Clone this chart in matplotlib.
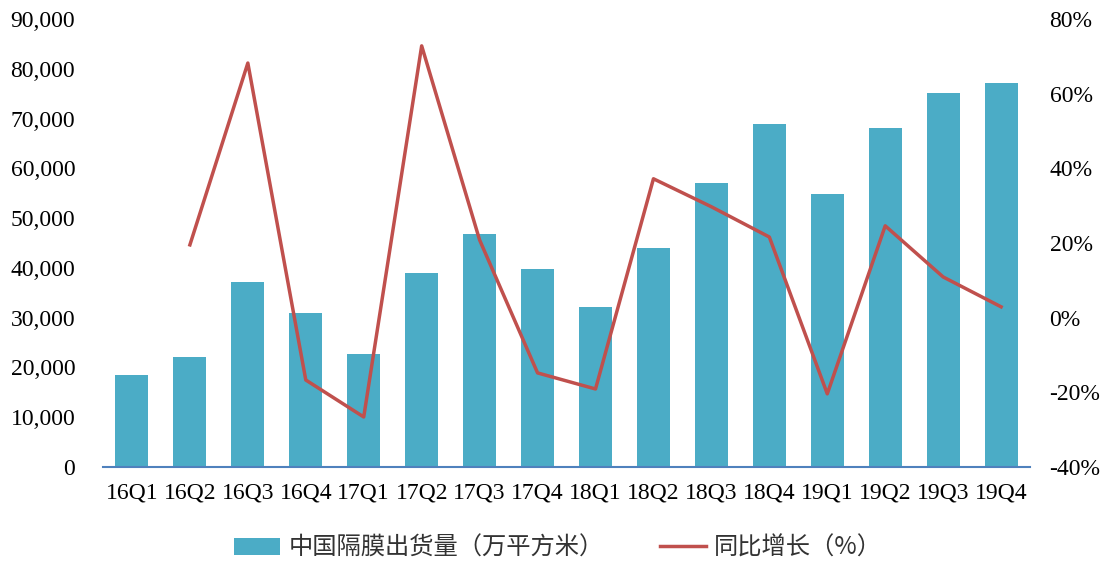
import matplotlib
matplotlib.use("Agg")
import matplotlib.pyplot as plt
from matplotlib.ticker import FuncFormatter, MultipleLocator
from matplotlib.patches import Patch
from matplotlib.lines import Line2D

categories = ["16Q1", "16Q2", "16Q3", "16Q4", "17Q1", "17Q2", "17Q3", "17Q4",
              "18Q1", "18Q2", "18Q3", "18Q4", "19Q1", "19Q2", "19Q3", "19Q4"]
shipments = [18500, 22100, 37100, 30900, 22700, 39000, 46800, 39800,
             32100, 44000, 57000, 68900, 54800, 68100, 75100, 77100]
growth = [None, 19.5, 68.2, -16.7, -26.6, 72.8, 20.8, -14.8,
          -19.1, 37.2, 29.7, 21.6, -20.4, 24.6, 10.9, 2.9]

bar_label = "中国隔膜出货量（万平方米）"
line_label = "同比增长（%）"

serif = ["Liberation Serif", "DejaVu Serif"]
cjk = ["Noto Sans CJK SC", "DejaVu Sans"]

fig = plt.figure(figsize=(11.05, 5.63), dpi=100)
ax = fig.add_axes([0.0932, 0.1705, 0.839, 0.7958])
ax2 = ax.twinx()

x = list(range(len(categories)))
bar_color = "#4BACC6"
line_color = "#C0504D"

ax.bar(x, shipments, width=0.57, color=bar_color, zorder=2)
gx = [i for i, g in zip(x, growth) if g is not None]
gy = [g for g in growth if g is not None]
ax2.plot(gx, gy, color=line_color, linewidth=2.5, zorder=3)

ax.set_xlim(-0.5, len(categories) - 0.5)
ax.set_ylim(0, 90000)
ax2.set_ylim(-40, 80)
ax.yaxis.set_major_locator(MultipleLocator(10000))
ax2.yaxis.set_major_locator(MultipleLocator(20))
ax.yaxis.set_major_formatter(FuncFormatter(lambda v, p: f"{int(v):,}"))
ax2.yaxis.set_major_formatter(FuncFormatter(lambda v, p: f"{int(v)}%"))

ax.set_xticks(x)
ax.set_xticklabels(categories)

for a in (ax, ax2):
    for s in a.spines.values():
        s.set_visible(False)
    a.tick_params(length=0)
ax.spines["bottom"].set_visible(True)
ax.spines["bottom"].set_color("#4F81BD")
ax.spines["bottom"].set_linewidth(1.5)

for lbl in ax.get_yticklabels() + ax.get_xticklabels() + ax2.get_yticklabels():
    lbl.set_fontfamily(serif)
    lbl.set_fontsize(17)
    lbl.set_color("#000000")
ax.tick_params(axis="y", pad=20)
ax.tick_params(axis="x", pad=11)
ax2.tick_params(axis="y", pad=14)

handles = [Patch(facecolor=bar_color, edgecolor="none"),
           Line2D([0], [0], color=line_color, linewidth=2.5)]
leg = fig.legend(handles, [bar_label, line_label], loc="center",
                 bbox_to_anchor=(0.505, 0.027), ncol=2, frameon=False,
                 prop={"family": cjk, "size": 17.5}, columnspacing=2.3,
                 handlelength=1.9, handletextpad=0.35)
for t in leg.get_texts():
    t.set_color("#333333")

fig.savefig("out.png", dpi=100)
